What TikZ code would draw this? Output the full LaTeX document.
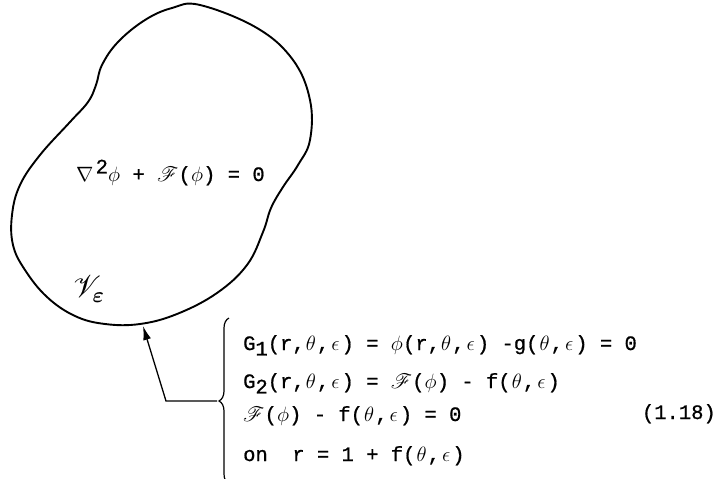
\documentclass[tikz,border=0pt]{standalone}
\usepackage{amsmath}
\usepackage{fontspec}
\setmonofont{Liberation Mono}[FakeBold=0.8]
\usepackage{mathrsfs}
\usetikzlibrary{arrows.meta,decorations.pathreplacing}
% one typewriter cell holding a math letter
\newcommand{\tyg}[1]{\makebox[.6em]{$#1$}}

\begin{document}
\begin{tikzpicture}[
    x=1pt, y=-1pt,
    font=\fontsize{20.5}{24}\selectfont\ttfamily,
    blob/.style={line width=1.9pt, line join=round},
    eqn/.style={anchor=base west, inner sep=0pt},
    ptr/.style={line width=1.3pt, -{Latex[length=14pt, width=8pt]}},
    bracebar/.style={line width=1.2pt, decorate, decoration={brace, amplitude=10pt}}
  ]
  \useasboundingbox (0,0) rectangle (721,479);
  % region V_eps
  \draw[blob] plot[smooth cycle, tension=0.65] coordinates {
      (200,5) (257,28) (293,60) (310,100) (310,140) (298,165) (283,187)
      (271,208) (263,232) (247,265) (217,293) (177,314) (140,324) (105,324)
      (75,316) (47,297) (25,270) (13,245) (12,215) (20,185) (40,155)
      (70,122) (88,102) (96,85) (102,65) (118,42) (145,20) (172,8)};
  \node[eqn] (field) at (76,181) {\makebox[.95em][l]{$\nabla$}\raisebox{.7ex}{2}\tyg{\phi}~+~$\mathscr{F}$(\tyg{\phi})~=~0};
  \node[scale=1.5, inner sep=0pt] (region) at (89,289) {$\mathscr{V}_{\boldsymbol{\varepsilon}}$};
  % boundary conditions
  \foreach \name/\y/\txt in {
      gone/350/{G\raisebox{-.5ex}{1}(r,\tyg{\theta},\tyg{\epsilon})~=~\tyg{\phi}(r,\tyg{\theta},\tyg{\epsilon})~-g(\tyg{\theta},\tyg{\epsilon})~=~0},
      gtwo/388/{G\raisebox{-.5ex}{2}(r,\tyg{\theta},\tyg{\epsilon})~=~$\mathscr{F}$(\tyg{\phi})~-~f(\tyg{\theta},\tyg{\epsilon})},
      fzero/421/{$\mathscr{F}$(\tyg{\phi})~-~f(\tyg{\theta},\tyg{\epsilon})~=~0},
      onr/461/{on~~r~=~1~+~f(\tyg{\theta},\tyg{\epsilon})}} {
    \node[eqn] (\name) at (243,\y) {\txt};
  }
  \node[anchor=base east, inner sep=0pt] (eqno) at (716,419) {(1.18)};
  \draw[bracebar] (229,484) -- (229,318);
  \coordinate (bracetip) at (217,401);
  \coordinate (bend) at (166,401);
  \coordinate (rim) at (143,326);
  \draw[ptr] (bracetip) -- (bend) -- (rim);
\end{tikzpicture}
\end{document}
